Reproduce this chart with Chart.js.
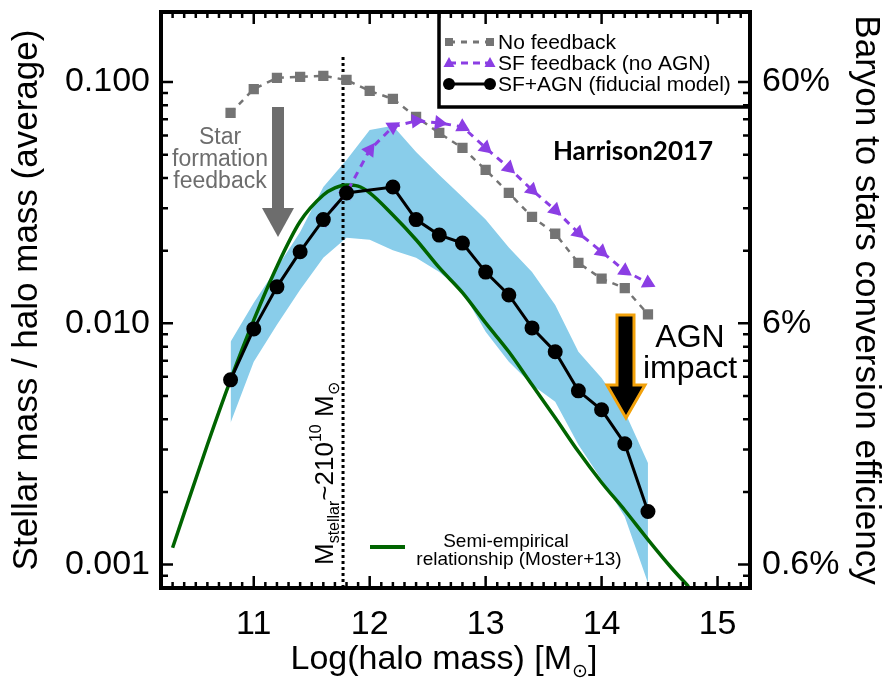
<!DOCTYPE html>
<html>
<head>
<meta charset="utf-8">
<script src="https://cdn.jsdelivr.net/npm/chart.js@4/dist/chart.umd.min.js"></script>
<style>
  html, body { margin: 0; padding: 0; background: #fff; }
  canvas { display: block; }
</style>
</head>
<body>
<canvas id="smhm" width="883" height="680"></canvas>
<script>
// log halo mass bins of the simulation runs
const haloMass = [10.8, 11.0, 11.2, 11.4, 11.6, 11.8, 12.0, 12.2, 12.4, 12.6, 12.8, 13.0, 13.2, 13.4, 13.6, 13.8, 14.0, 14.2, 14.4];
const noFeedback = [0.0744, 0.0935, 0.104, 0.105, 0.106, 0.102, 0.0918, 0.0851, 0.0717, 0.0615, 0.0533, 0.0432, 0.0347, 0.0276, 0.0235, 0.0178, 0.0153, 0.0140, 0.0109];
// scatter of the fiducial run (shaded band)
const bandHigh = [0.00838, 0.01217, 0.0170, 0.0239, 0.0367, 0.0475, 0.0633, 0.0658, 0.0513, 0.0412, 0.0334, 0.0269, 0.0206, 0.0163, 0.0119, 0.00762, 0.00594, 0.00430, 0.00264];
const bandLow = [0.00387, 0.00693, 0.00986, 0.01377, 0.0187, 0.0226, 0.0222, 0.0201, 0.0187, 0.0163, 0.0135, 0.00923, 0.00693, 0.00556, 0.00473, 0.00314, 0.00225, 0.00158, 0.00084];

const sfMass = [11.6, 11.8, 12.0, 12.2, 12.4, 12.6, 12.8, 13.0, 13.2, 13.4, 13.6, 13.8, 14.0, 14.2, 14.4];
const sfFeedback = [0.0269, 0.0347, 0.0523, 0.0652, 0.0690, 0.0677, 0.0652, 0.0533, 0.0441, 0.0357, 0.0295, 0.0237, 0.0198, 0.0165, 0.0147];

const agnMass = [10.8, 11.0, 11.2, 11.4, 11.6, 11.8, 12.2, 12.4, 12.6, 12.8, 13.0, 13.2, 13.4, 13.6, 13.8, 14.0, 14.2, 14.4];
const sfAgn = [0.00583, 0.00948, 0.01416, 0.0198, 0.0269, 0.0347, 0.0367, 0.0269, 0.0232, 0.0215, 0.0163, 0.0131, 0.00957, 0.00762, 0.00525, 0.00438, 0.00317, 0.00166];

// Moster+13 semi-empirical relation
const mosterMass = [10.3, 10.6, 10.8, 11.0, 11.2, 11.4, 11.6, 11.7, 11.8, 11.9, 12.0, 12.2, 12.4, 12.6, 12.8, 13.0, 13.2, 13.4, 13.6, 13.8, 14.0, 14.2, 14.4, 14.6, 14.75];
const moster = [0.001175, 0.00314, 0.00583, 0.0103, 0.0172, 0.0264, 0.0340, 0.0364, 0.0374, 0.0370, 0.0347, 0.0281, 0.0222, 0.0170, 0.0134, 0.01004, 0.00762, 0.00556, 0.00406, 0.00294, 0.00219, 0.00168, 0.00127, 0.000973, 0.000811];

const stellarMassLine = 11.77;
const stellarLineTop = 0.127;

const xTicks = [11, 12, 13, 14, 15];
const yTicks = [0.001, 0.01, 0.1];
const yTickLabels = ['0.001', '0.010', '0.100'];
const effTickLabels = ['0.6%', '6%', '60%'];

const X_MIN = 10.2, X_MAX = 15.28, Y_MIN = 0.0008, Y_MAX = 0.195;

const GREY = '#747474';
const PURPLE = '#8b3ee4';
const GREEN = '#006400';
const BAND = '#89cdea';
const ORANGE = '#f2a10a';
const FONT = '"Liberation Sans", Arial, Helvetica, sans-serif';

function pts(xs, ys) {
    return xs.map((x, i) => ({x: x, y: ys[i]}));
}

// rotate the triangles along the line they sit on
function alongLine(c) {
    const chart = c.chart, d = c.dataset.data, i = c.dataIndex;
    if (!d[i]) return 0;
    const a = d[Math.max(i - 1, 0)], b = d[Math.min(i + 1, d.length - 1)];
    const sx = chart.scales.x, sy = chart.scales.y;
    const dx = sx.getPixelForValue(b.x) - sx.getPixelForValue(a.x);
    const dy = sy.getPixelForValue(b.y) - sy.getPixelForValue(a.y);
    return Math.atan2(dy, dx) * 180 / Math.PI + 90;
}

// text with sub/superscripts: parts = [[text, size, dy], ...]
function richText(ctx, x, y, parts, align) {
    let w = 0;
    parts.forEach(p => { ctx.font = p[1] + 'px ' + FONT; w += ctx.measureText(p[0]).width; });
    let cx = align === 'center' ? x - w / 2 : x;
    ctx.textAlign = 'left';
    ctx.textBaseline = 'alphabetic';
    parts.forEach(p => {
        ctx.font = p[1] + 'px ' + FONT;
        ctx.fillText(p[0], cx, y + (p[2] || 0));
        cx += ctx.measureText(p[0]).width;
    });
}

function marker(ctx, kind, x, y, color) {
    ctx.fillStyle = color;
    ctx.beginPath();
    if (kind === 'rect') {
        ctx.rect(x - 4, y - 4, 8, 8);
    } else if (kind === 'tri') {
        ctx.moveTo(x, y - 6); ctx.lineTo(x + 5.5, y + 4); ctx.lineTo(x - 5.5, y + 4); ctx.closePath();
    } else {
        ctx.arc(x, y, 6, 0, Math.PI * 2);
    }
    ctx.fill();
}

// keep the plot box where it is: no automatic label padding
function noEdgePadding(s) {
    s.paddingTop = 0; s.paddingBottom = 0; s.paddingLeft = 0; s.paddingRight = 0;
}

const decorations = {
    id: 'decorations',
    afterDraw(chart) {
        const ctx = chart.ctx;
        const ca = chart.chartArea;
        const sx = chart.scales.x, sy = chart.scales.y;
        ctx.save();

        // legend box in the upper right corner
        ctx.fillStyle = '#fff';
        ctx.fillRect(439, ca.top, ca.right - 439, 107 - ca.top);
        ctx.strokeStyle = '#000';
        ctx.lineWidth = 3.5;
        ctx.strokeRect(439, ca.top, ca.right - 439, 107 - ca.top);
        const rows = [
            ['No feedback', GREY, 'rect', [6, 6], 42],
            ['SF feedback (no AGN)', PURPLE, 'tri', [7, 5], 63],
            ['SF+AGN (fiducial model)', '#000', 'dot', [], 84]
        ];
        rows.forEach(r => {
            ctx.strokeStyle = r[1];
            ctx.lineWidth = 3;
            ctx.setLineDash(r[3]);
            ctx.beginPath(); ctx.moveTo(449, r[4]); ctx.lineTo(490, r[4]); ctx.stroke();
            ctx.setLineDash([]);
            marker(ctx, r[2], 449, r[4], r[1]);
            marker(ctx, r[2], 490, r[4], r[1]);
            ctx.fillStyle = '#000';
            ctx.font = '21px ' + FONT;
            ctx.textAlign = 'left';
            ctx.textBaseline = 'middle';
            ctx.fillText(r[0], 498, r[4] + 1);
        });

        // frame
        ctx.strokeStyle = '#000';
        ctx.lineWidth = 4;
        ctx.strokeRect(ca.left, ca.top, ca.right - ca.left, ca.bottom - ca.top);

        // inward tick marks on all four sides
        ctx.lineWidth = 2.5;
        ctx.beginPath();
        for (let k = Math.ceil(X_MIN * 10); k <= Math.floor(X_MAX * 10); k++) {
            const px = sx.getPixelForValue(k / 10);
            const len = k % 10 === 0 ? 12 : 6;
            ctx.moveTo(px, ca.bottom); ctx.lineTo(px, ca.bottom - len);
            ctx.moveTo(px, ca.top); ctx.lineTo(px, ca.top + len);
        }
        for (let e = -4; e <= -1; e++) {
            for (let m = 1; m <= 9; m++) {
                const v = m * Math.pow(10, e);
                if (v < Y_MIN || v > Y_MAX) continue;
                const py = sy.getPixelForValue(v);
                const len = m === 1 ? 12 : 7;
                ctx.moveTo(ca.left, py); ctx.lineTo(ca.left + len, py);
                ctx.moveTo(ca.right, py); ctx.lineTo(ca.right - len, py);
            }
        }
        ctx.stroke();

        // star formation feedback arrow
        ctx.fillStyle = '#6d6d6d';
        ctx.fillRect(272, 107, 12, 102);
        ctx.beginPath();
        ctx.moveTo(262, 208); ctx.lineTo(294, 208); ctx.lineTo(278, 237); ctx.closePath();
        ctx.fill();
        ctx.font = '23px ' + FONT;
        ctx.textAlign = 'center';
        ctx.textBaseline = 'middle';
        ctx.fillText('Star', 220, 138);
        ctx.fillText('formation', 220, 160);
        ctx.fillText('feedback', 220, 182);

        // AGN impact arrow
        ctx.beginPath();
        ctx.moveTo(617, 315); ctx.lineTo(634, 315); ctx.lineTo(634, 385); ctx.lineTo(645, 385);
        ctx.lineTo(626, 418); ctx.lineTo(607, 385); ctx.lineTo(617, 385); ctx.closePath();
        ctx.fillStyle = '#000';
        ctx.fill();
        ctx.strokeStyle = ORANGE;
        ctx.lineWidth = 3;
        ctx.lineJoin = 'miter';
        ctx.stroke();
        ctx.fillStyle = '#000';
        ctx.font = '32px ' + FONT;
        ctx.fillText('AGN', 690, 338);
        ctx.fillText('impact', 690, 369);

        ctx.font = 'bold 26px Lato, "Open Sans", sans-serif';
        ctx.fillText('Harrison2017', 633, 152);

        // Moster+13 key
        ctx.strokeStyle = GREEN;
        ctx.lineWidth = 4;
        ctx.beginPath(); ctx.moveTo(370, 547); ctx.lineTo(405, 547); ctx.stroke();
        ctx.fillStyle = '#000';
        ctx.font = '19px ' + FONT;
        ctx.fillText('Semi-empirical', 506, 542);
        ctx.fillText('relationship (Moster+13)', 519, 560);

        // label along the dotted stellar-mass line
        ctx.save();
        ctx.translate(sx.getPixelForValue(stellarMassLine) - 10, 565);
        ctx.rotate(-Math.PI / 2);
        richText(ctx, 0, 0, [['M', 26], ['stellar', 16, 6], ['~210', 26], ['10', 16, -12], [' M', 26], ['\u2299', 16, 6]]);
        ctx.restore();

        // x axis title
        richText(ctx, 444, 669, [['Log(halo mass) [M', 34], ['\u2299', 19, 8], [']', 34]], 'center');

        ctx.restore();
    }
};

new Chart(document.getElementById('smhm'), {
    type: 'line',
    data: {
        datasets: [
            {
                label: 'SF+AGN (fiducial model)',
                data: pts(agnMass, sfAgn),
                borderColor: '#000', backgroundColor: '#000',
                borderWidth: 3, pointRadius: 6, pointStyle: 'circle',
                tension: 0, order: 1
            },
            {
                label: 'SF feedback (no AGN)',
                data: pts(sfMass, sfFeedback),
                borderColor: PURPLE, backgroundColor: PURPLE,
                borderWidth: 3, borderDash: [7, 6],
                pointStyle: 'triangle', pointRadius: 5.5, pointRotation: alongLine,
                tension: 0, order: 2
            },
            {
                label: 'No feedback',
                data: pts(haloMass, noFeedback),
                borderColor: GREY, backgroundColor: GREY,
                borderWidth: 2.5, borderDash: [6, 6],
                pointStyle: 'rect', pointRadius: 5.5,
                tension: 0, order: 3
            },
            {
                label: 'Semi-empirical relationship (Moster+13)',
                data: pts(mosterMass, moster),
                borderColor: GREEN, borderWidth: 3.5,
                pointRadius: 0, cubicInterpolationMode: 'monotone', order: 4
            },
            {
                label: 'stellar mass marker',
                data: [{x: stellarMassLine, y: Y_MIN}, {x: stellarMassLine, y: stellarLineTop}],
                borderColor: '#000', borderWidth: 3, borderDash: [3, 3],
                pointRadius: 0, order: 5
            },
            {
                label: 'scatter high',
                data: pts(haloMass, bandHigh),
                borderWidth: 0, borderColor: BAND, backgroundColor: BAND,
                pointRadius: 0, tension: 0, fill: '+1', order: 8
            },
            {
                label: 'scatter low',
                data: pts(haloMass, bandLow),
                borderWidth: 0, borderColor: BAND,
                pointRadius: 0, tension: 0, fill: false, order: 9
            }
        ]
    },
    options: {
        responsive: false,
        animation: false,
        layout: {padding: {top: 12, left: 0, right: 0, bottom: 0}},
        plugins: {
            legend: {display: false},
            tooltip: {enabled: false}
        },
        scales: {
            x: {
                type: 'linear', min: X_MIN, max: X_MAX,
                grid: {display: false, drawTicks: false},
                border: {display: false},
                afterBuildTicks: s => { s.ticks = xTicks.map(v => ({value: v})); },
                afterFit: s => { s.height = 92; noEdgePadding(s); },
                ticks: {
                    color: '#000', padding: 16,
                    font: {family: FONT, size: 34},
                    callback: v => String(v)
                }
            },
            y: {
                type: 'logarithmic', min: Y_MIN, max: Y_MAX, position: 'left',
                grid: {display: false, drawTicks: false},
                border: {display: false},
                afterBuildTicks: s => { s.ticks = yTicks.map(v => ({value: v})); },
                afterFit: s => { s.width = 161; noEdgePadding(s); },
                ticks: {
                    color: '#000', padding: 11,
                    font: {family: FONT, size: 34},
                    callback: v => yTickLabels[yTicks.indexOf(v)]
                },
                title: {
                    display: true, text: 'Stellar mass / halo mass (average)', color: '#000',
                    font: {family: FONT, size: 35, lineHeight: 1.2}, padding: {top: 6}
                }
            },
            y2: {
                type: 'logarithmic', min: Y_MIN, max: Y_MAX, position: 'right',
                grid: {display: false, drawTicks: false},
                border: {display: false},
                afterBuildTicks: s => { s.ticks = yTicks.map(v => ({value: v})); },
                afterFit: s => { s.width = 133; noEdgePadding(s); },
                ticks: {
                    color: '#000', padding: 12,
                    font: {family: FONT, size: 34},
                    callback: v => effTickLabels[yTicks.indexOf(v)]
                },
                title: {
                    display: true, text: 'Baryon to stars conversion efficiency', color: '#000',
                    font: {family: FONT, size: 35, lineHeight: 1.0}, padding: {top: 0}
                }
            }
        }
    },
    plugins: [decorations]
});
</script>
</body>
</html>
